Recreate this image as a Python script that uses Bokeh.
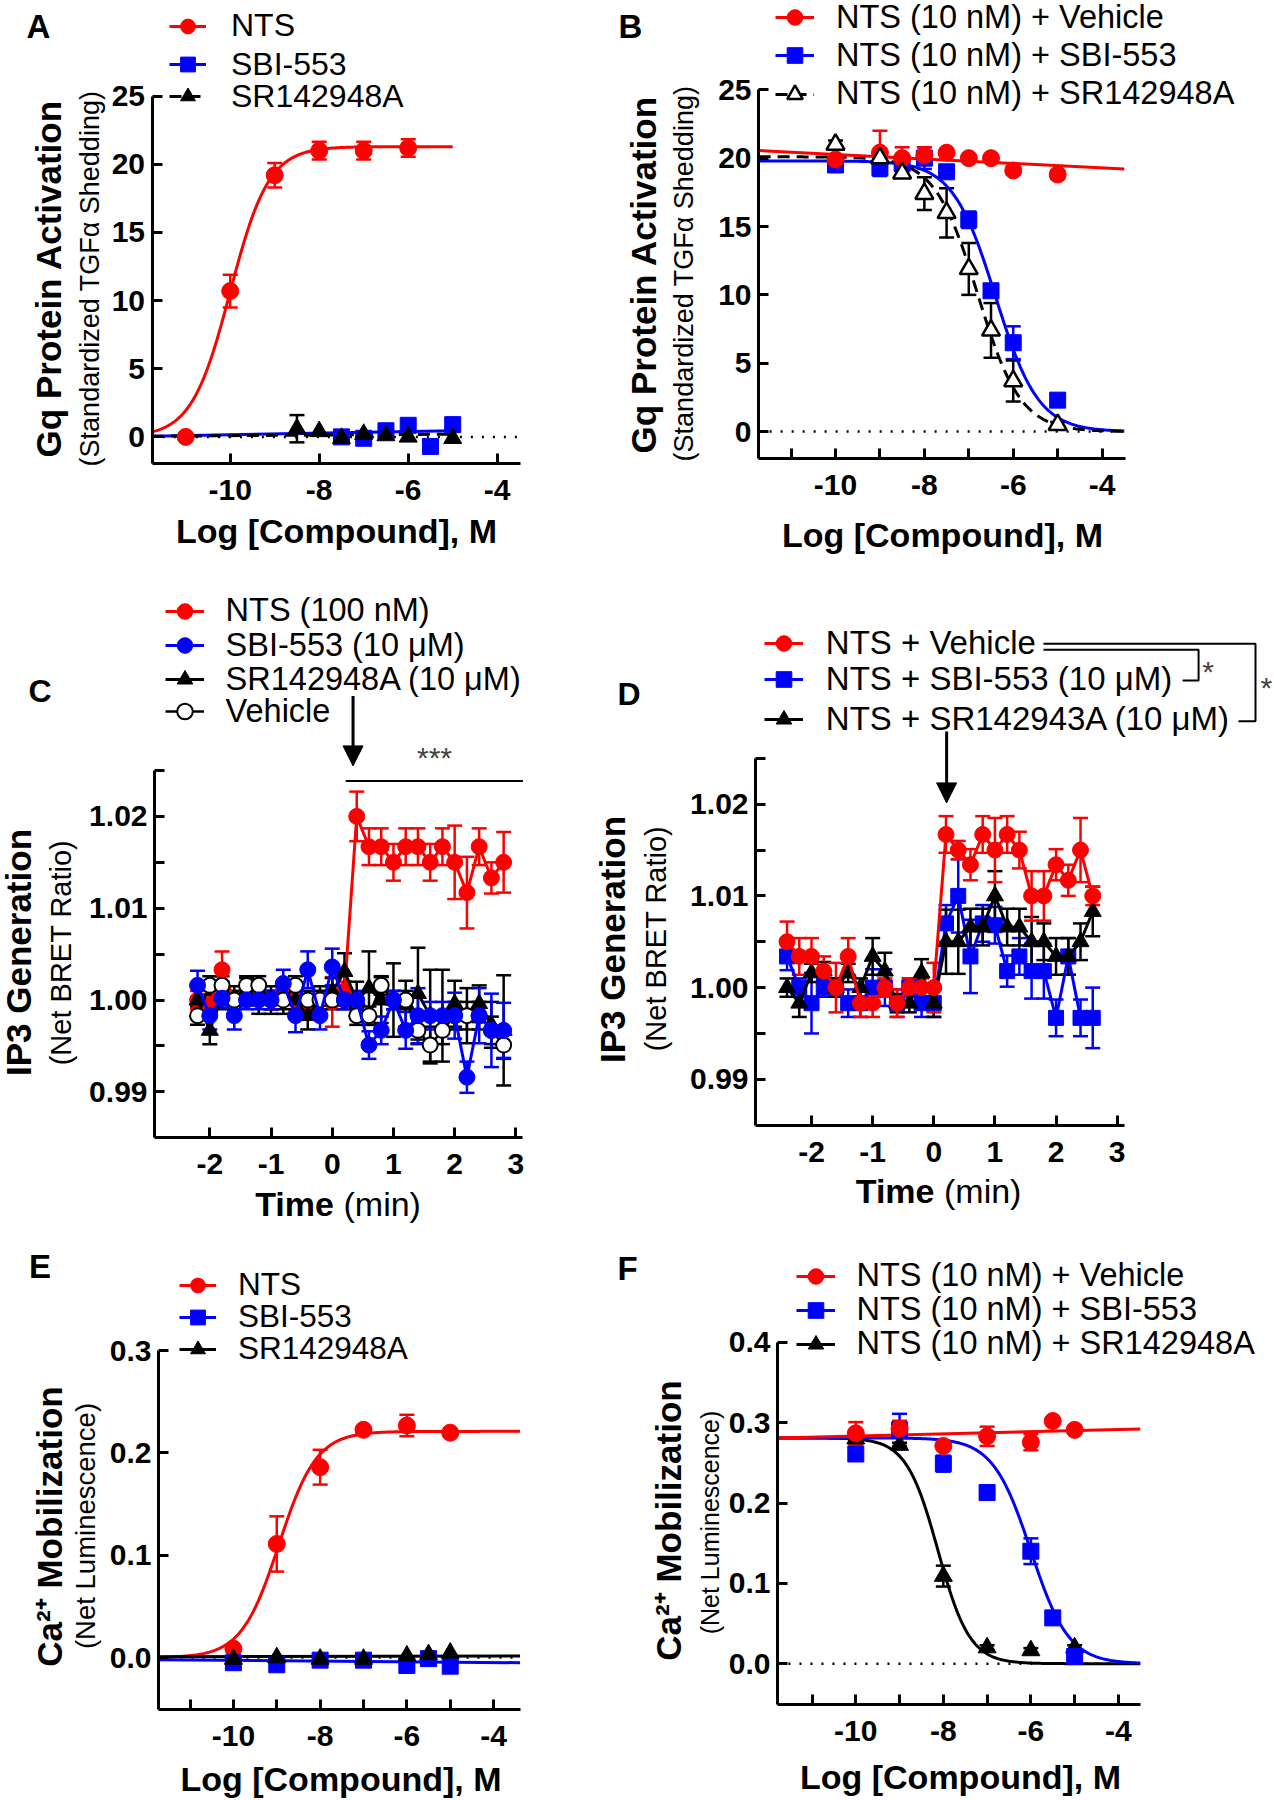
import numpy as np
from bokeh.plotting import figure
from bokeh.models import (ColumnDataSource, Whisker, TeeHead, Legend, LegendItem, Label,
                          Arrow, NormalHead, FixedTicker, NumeralTickFormatter, Range1d)
from bokeh.core.properties import value
from bokeh.layouts import column, row
from bokeh.embed import file_html
from bokeh.resources import INLINE

FONT = "Liberation Sans"
RED = "#ff0000"
BLUE = "#0000ff"
BLACK = "#000000"

# ================= DATA =================
# ---- Panel A: Gq activation, agonist mode ----
A_x_nts = [-11, -10, -9, -8, -7, -6]
A_y_nts = [0.0, 10.7, 19.2, 21.0, 21.0, 21.2]
A_e_nts = [0.0, 1.2, 0.9, 0.65, 0.65, 0.65]
A_x_sbi = [-7.5, -7.0, -6.5, -6.0, -5.5, -5.0]
A_y_sbi = [0.0, -0.1, 0.45, 0.85, -0.7, 0.9]
A_x_sr = [-8.5, -8.0, -7.5, -7.0, -6.5, -6.0, -5.0]
A_y_sr = [0.6, 0.4, -0.1, 0.2, 0.1, 0.0, -0.1]
A_e_sr = [1.0, 0.0, 0.0, 0.0, 0.0, 0.0, 0.0]
A_fit_nts = [0.0, 21.3, -10.0, 1.0]          # bottom, top, logEC50, Hill
A_fit_x = [-11.76, -5.0]
A_fit_sbi = [0.05, 0.45]
A_fit_sr = [0.05, 0.2]
A_zero_x = [-11.76, -3.52]

# ---- Panel B: Gq activation, antagonist mode ----
B_x = [-10, -9, -8.5, -8, -7.5, -7, -6.5, -6, -5]
B_y_veh = [19.9, 20.4, 20.0, 20.2, 20.4, 20.0, 20.0, 19.1, 18.8]
B_e_veh = [0.2, 1.6, 0.8, 0.6, 0.2, 0.2, 0.2, 0.3, 0.3]
B_y_sbi = [19.5, 19.3, 19.6, 20.0, 19.0, 15.5, 10.3, 6.5, 2.3]
B_e_sbi = [0.2, 0.6, 0.3, 0.8, 0.3, 0.6, 0.4, 1.2, 0.2]
B_y_sr = [21.0, 20.0, 18.9, 17.4, 16.0, 11.9, 7.4, 3.7, 0.5]
B_e_sr = [0.3, 0.4, 0.3, 1.2, 1.8, 1.9, 2.0, 1.5, 0.2]
B_fit_x = [-11.73, -3.5]
B_fit_veh = [20.56, 19.2]
B_fit_sbi = [0.0, 19.8, -6.4, 0.9]            # bottom, top, logIC50, Hill
B_fit_sr = [0.0, 20.1, -6.8, 0.9]
B_zero_x = [-11.73, -3.5]

# ---- Panel C: IP3 time course ----
C_t = [-2.2, -2.0, -1.8, -1.6, -1.4, -1.2, -1.0, -0.8, -0.6, -0.4, -0.2, 0.0, 0.2,
       0.4, 0.6, 0.8, 1.0, 1.2, 1.4, 1.6, 1.8, 2.0, 2.2, 2.4, 2.6, 2.8]
C_nts = [1.0000, 0.9995, 1.0033, 1.0000, 1.0005, 1.0005, 1.0000, 1.0010, 1.0000, 0.9990, 1.0000, 0.9998, 1.0010,
         1.0200, 1.0167, 1.0167, 1.0150, 1.0167, 1.0167, 1.0150, 1.0167, 1.0150, 1.0117, 1.0167, 1.0133, 1.0150]
C_nts_e = [0.001, 0.001, 0.002, 0.001, 0.001, 0.001, 0.001, 0.001, 0.001, 0.001, 0.001, 0.0027, 0.001,
           0.0027, 0.002, 0.002, 0.002, 0.002, 0.002, 0.002, 0.002, 0.004, 0.0039, 0.002, 0.0017, 0.0033]
C_sbi = [1.0016, 0.9983, 1.0002, 0.9983, 1.0000, 1.0000, 1.0000, 1.0018, 0.9983, 1.0033, 0.9983, 1.0036, 1.0000,
         1.0000, 0.9951, 0.9967, 1.0000, 0.9967, 0.9983, 0.9983, 0.9983, 0.9983, 0.9916, 0.9983, 0.9967, 0.9967]
C_sbi_e = [0.0016, 0.0015, 0.001, 0.0015, 0.001, 0.001, 0.001, 0.0015, 0.0018, 0.002, 0.0015, 0.002, 0.001,
           0.001, 0.0015, 0.0015, 0.001, 0.002, 0.003, 0.0015, 0.0015, 0.0025, 0.0017, 0.003, 0.004, 0.003]
C_sr = [1.0000, 0.9967, 1.0005, 1.0000, 1.0009, 1.0000, 1.0000, 1.0000, 1.0000, 0.9983, 1.0000, 1.0009, 1.0031,
        1.0000, 1.0013, 1.0000, 1.0000, 0.9996, 1.0007, 0.9983, 0.9983, 0.9996, 0.9983, 0.9996, 0.9973, 0.9967]
C_sr_e = [0.0015, 0.0015, 0.0015, 0.0015, 0.0015, 0.0015, 0.0015, 0.0015, 0.0015, 0.0015, 0.0015, 0.0015, 0.002,
          0.002, 0.004, 0.0025, 0.004, 0.0025, 0.005, 0.005, 0.005, 0.0025, 0.003, 0.002, 0.0025, 0.006]
C_veh = [0.9983, 1.0016, 1.0016, 1.0000, 1.0016, 1.0016, 1.0000, 1.0000, 1.0016, 1.0000, 1.0000, 1.0000, 1.0000,
         0.9983, 0.9983, 1.0016, 1.0000, 1.0000, 0.9967, 0.9951, 0.9967, 0.9983, 0.9983, 0.9983, 0.9967, 0.9951]
C_veh_e = [0.001] * 18 + [0.0015, 0.002, 0.0015, 0.0015, 0.0015, 0.0015, 0.0015, 0.0015]
C_inject = 0.34
C_arrow_y = [1.0331, 1.0255]
C_sig_x = [0.22, 3.115]
C_sig_y = 1.02386
C_sig_text_xy = [1.67, 1.02637]

# ---- Panel D: IP3 time course, antagonist pre-treatment ----
D_t = [-2.4, -2.2, -2.0, -1.8, -1.6, -1.4, -1.2, -1.0, -0.8, -0.6, -0.4, -0.2, 0.0,
       0.2, 0.4, 0.6, 0.8, 1.0, 1.2, 1.4, 1.6, 1.8, 2.0, 2.2, 2.4, 2.6]
D_veh = [1.0050, 1.0034, 1.0034, 1.0018, 1.0000, 1.0034, 0.9983, 0.9983, 1.0000, 0.9983, 1.0000, 1.0000, 1.0000,
         1.0167, 1.0150, 1.0134, 1.0167, 1.0150, 1.0167, 1.0150, 1.0100, 1.0100, 1.0134, 1.0117, 1.0150, 1.0100]
D_veh_e = [0.0022, 0.002, 0.002, 0.0016, 0.0027, 0.002, 0.0015, 0.0015, 0.001, 0.0015, 0.001, 0.001, 0.0027,
           0.002, 0.001, 0.0017, 0.002, 0.0035, 0.002, 0.002, 0.0027, 0.0027, 0.0017, 0.0017, 0.0035, 0.001]
D_sbi = [1.0034, 1.0000, 0.9983, 1.0000, 1.0000, 0.9983, 0.9983, 1.0000, 1.0000, 0.9983, 1.0000, 0.9983, 0.9983,
         1.0070, 1.0100, 1.0034, 1.0070, 1.0068, 1.0018, 1.0034, 1.0018, 1.0018, 0.9967, 1.0034, 0.9967, 0.9967]
D_sbi_e = [0.0015, 0.001, 0.0033, 0.001, 0.001, 0.0015, 0.0015, 0.002, 0.002, 0.0015, 0.001, 0.0015, 0.0015,
           0.002, 0.004, 0.004, 0.002, 0.002, 0.0017, 0.002, 0.003, 0.003, 0.002, 0.002, 0.002, 0.0033]
D_sr = [1.0000, 0.9983, 1.0016, 1.0018, 1.0000, 1.0016, 1.0000, 1.0034, 1.0018, 0.9983, 0.9983, 1.0016, 0.9983,
        1.0050, 1.0050, 1.0066, 1.0066, 1.0100, 1.0066, 1.0066, 1.0050, 1.0050, 1.0034, 1.0034, 1.0050, 1.0083]
D_sr_e = [0.001, 0.0015, 0.001, 0.001, 0.001, 0.001, 0.001, 0.002, 0.002, 0.001, 0.001, 0.0015, 0.0015,
          0.0035, 0.0035, 0.002, 0.002, 0.0027, 0.002, 0.002, 0.0027, 0.002, 0.002, 0.002, 0.002, 0.0027]
D_inject = 0.21
D_arrow_y = [1.02793, 1.02014]
D_br1_x = [1.794, 4.331, 4.331, 4.070]
D_br1_y = [1.03683, 1.03683, 1.03349, 1.03349]
D_br2_x = [1.794, 5.262, 5.262, 4.984]
D_br2_y = [1.03749, 1.03749, 1.02904, 1.02904]
D_star_x = [4.485, 5.441]
D_star_y = [1.03449, 1.03271]

# ---- Panel E: Ca2+ mobilization, agonist mode ----
E_x_nts = [-10, -9, -8, -7, -6, -5]
E_y_nts = [0.0087, 0.111, 0.186, 0.2225, 0.2267, 0.2197]
E_e_nts = [0.003, 0.027, 0.017, 0.003, 0.0105, 0.003]
E_x = [-10, -9, -8, -7, -6, -5.5, -5]
E_y_sbi = [-0.005, -0.007, -0.0025, -0.0025, -0.0077, -0.001, -0.0084]
E_y_sr = [-0.0014, 0.0, -0.0014, -0.0014, 0.0017, 0.003, 0.0045]
E_fit_nts = [0.0, 0.221, -8.95, 1.0]
E_fit_x = [-11.727, -3.39]
E_fit_sbi = [-0.002, -0.005]
E_fit_sr = [0.0008, 0.0015]

# ---- Panel F: Ca2+ mobilization, antagonist mode ----
F_x = [-10, -9, -8, -7, -6, -5.5, -5]
F_y_veh = [0.2867, 0.2924, 0.271, 0.283, 0.2756, 0.302, 0.291]
F_e_veh = [0.014, 0.01, 0.003, 0.012, 0.01, 0.003, 0.003]
F_y_sbi = [0.261, 0.291, 0.249, 0.213, 0.140, 0.057, 0.009]
F_e_sbi = [0.005, 0.02, 0.01, 0.005, 0.016, 0.005, 0.005]
F_x_sr = [-10, -9, -8, -7, -6, -5]
F_y_sr = [0.28, 0.272, 0.109, 0.020, 0.0164, 0.020]
F_e_sr = [0.003, 0.003, 0.013, 0.003, 0.003, 0.003]
F_fit_x = [-11.79, -3.5]
F_fit_veh = [0.281, 0.292]
F_fit_sbi = [0.0, 0.281, -6.0, 1.0]
F_fit_sr = [0.0, 0.281, -8.12, 1.2]
F_zero_x = [-11.79, -3.5]

LOG_TICKS = [-10, -8, -6, -4]
LOG_MINOR = [-11, -9, -7, -5]
TIME_TICKS = [-2, -1, 0, 1, 2, 3]
IP3_TICKS = [0.99, 1.00, 1.01, 1.02]
IP3_MINOR = [0.995, 1.005, 1.015, 1.025]


# ================= HELPERS =================
def agonist(params, xr, n=300):
    b, t, c, h = params
    xs = np.linspace(xr[0], xr[1], n)
    return xs, b + (t - b) / (1 + 10 ** ((c - xs) * h))


def antagonist(params, xr, n=300):
    b, t, c, h = params
    xs = np.linspace(xr[0], xr[1], n)
    return xs, b + (t - b) / (1 + 10 ** ((xs - c) * h))


class Panel:
    """One panel; the plotting frame fills the whole canvas, axes sit at fixed locations."""

    def __init__(self, cols, rows, xcal, ycal, yaxis_px, xaxis_px, xend_px, ytop):
        self.c0, self.c1 = cols
        self.r0, self.r1 = rows
        xv1, xp1, xv2, xp2 = xcal
        yv1, yp1, yv2, yp2 = ycal
        self.fx = lambda px: xv1 + (px - xp1) * (xv2 - xv1) / (xp2 - xp1)
        self.fy = lambda py: yv1 + (py - yp1) * (yv2 - yv1) / (yp2 - yp1)
        self.p = figure(width=self.c1 - self.c0, height=self.r1 - self.r0,
                        x_range=Range1d(self.fx(self.c0), self.fx(self.c1)),
                        y_range=Range1d(self.fy(self.r1), self.fy(self.r0)),
                        output_backend="svg", toolbar_location=None, tools="", min_border=0)
        self.p.outline_line_color = None
        self.p.grid.visible = False
        self.p.background_fill_color = "white"
        self.p.border_fill_color = "white"
        self.x_at = self.fy(xaxis_px)
        self.y_at = self.fx(yaxis_px)
        self.xb = (self.y_at, self.fx(xend_px))
        self.yb = (self.x_at, ytop)

    def axes(self, xt, yt, xminor=None, yminor=None, xfmt="0", yfmt="0"):
        p = self.p
        for ax in (p.xaxis[0], p.yaxis[0]):
            ax.axis_line_width = 3
            ax.axis_line_color = "black"
            ax.major_tick_in = 10
            ax.major_tick_out = 0
            ax.major_tick_line_width = 3
            ax.minor_tick_in = 10
            ax.minor_tick_out = 0
            ax.minor_tick_line_width = 3
            ax.major_label_text_font = FONT
            ax.major_label_text_font_style = "bold"
            ax.major_label_text_font_size = "30px"
            ax.major_label_text_color = "black"
        p.xaxis[0].fixed_location = self.x_at
        p.yaxis[0].fixed_location = self.y_at
        p.xaxis[0].bounds = self.xb
        p.yaxis[0].bounds = self.yb
        p.xaxis[0].ticker = FixedTicker(ticks=xt, minor_ticks=xminor or [])
        p.yaxis[0].ticker = FixedTicker(ticks=yt, minor_ticks=yminor or [])
        p.xaxis[0].formatter = NumeralTickFormatter(format=xfmt)
        p.yaxis[0].formatter = NumeralTickFormatter(format=yfmt)
        p.xaxis[0].major_label_standoff = 16
        p.yaxis[0].major_label_standoff = 7

    def lab(self, text, rx, ry, size, bold=False, align="left", baseline="middle", angle=0.0):
        self.p.add_layout(Label(x=rx - self.c0, y=self.r1 - ry, x_units="screen", y_units="screen",
                                text=text, text_font=FONT, text_font_size=size,
                                text_font_style="bold" if bold else "normal",
                                text_align=align, text_baseline=baseline, angle=angle,
                                text_color="black"))

    def legend(self, entries, sym_left, rows, gw, standoff, size="32.5px", gh=40):
        for (label, rends), rc in zip(entries, rows):
            lg = Legend(items=[LegendItem(label=value(label), renderers=rends)],
                        location=(sym_left - self.c0, self.r1 - rc - gh / 2),
                        glyph_width=int(round(gw)), glyph_height=gh, label_height=gh,
                        label_standoff=int(round(standoff)), padding=0, margin=0, spacing=0,
                        border_line_alpha=0, background_fill_alpha=0,
                        label_text_font=FONT, label_text_font_size=size, label_text_color="black")
            self.p.add_layout(lg)


def errbars(p, x, y, e, color, width=2.5, cap=15):
    xs, lo, hi = [], [], []
    for a, b, c in zip(x, y, e):
        if c > 0:
            xs.append(a)
            lo.append(b - c)
            hi.append(b + c)
    src = ColumnDataSource(dict(x=xs, lo=lo, hi=hi))
    p.add_layout(Whisker(source=src, base="x", lower="lo", upper="hi", dimension="height",
                         line_color=color, line_width=width, level="underlay",
                         lower_head=TeeHead(size=cap, line_color=color, line_width=width),
                         upper_head=TeeHead(size=cap, line_color=color, line_width=width)))


DOT = "2 9"
DASH = "12 7"
ROT = np.pi / 2
SZ_C, SZ_S, SZ_T = 17, 16, 18

# ================= PANEL A =================
A = Panel((0, 590), (0, 570), (-10, 229.7, -4, 496.7), (0, 436.4, 25, 95.7), 151.5, 463, 520, 25)
A.axes(LOG_TICKS, [0, 5, 10, 15, 20, 25])
pa = A.p
pa.line(A_zero_x, [0, 0], color=BLACK, line_width=2.5, line_dash=DOT)
xs, ys = agonist(A_fit_nts, A_fit_x)
a_l1 = pa.line(xs, ys, color=RED, line_width=3)
a_l2 = pa.line(A_fit_x, A_fit_sbi, color=BLUE, line_width=3)
a_l3 = pa.line(A_fit_x, A_fit_sr, color=BLACK, line_width=3, line_dash=DASH)
errbars(pa, A_x_nts, A_y_nts, A_e_nts, RED)
errbars(pa, A_x_sr, A_y_sr, A_e_sr, BLACK)
a_m1 = pa.scatter(A_x_nts, A_y_nts, marker="circle", size=SZ_C, color=RED)
a_m2 = pa.scatter(A_x_sbi, A_y_sbi, marker="square", size=SZ_S, color=BLUE)
a_m3 = pa.scatter(A_x_sr, A_y_sr, marker="triangle", size=SZ_T, color=BLACK)
A.legend([("NTS", [a_l1, a_m1]), ("SBI-553", [a_l2, a_m2]), ("SR142948A", [a_l3, a_m3])],
         169, [25.7, 64.3, 96.4], 37, 25, size="32px")
A.lab("A", 26, 26, "33px", bold=True)
A.lab("Gq Protein Activation", 48, 278, "35px", bold=True, align="center", angle=ROT)
A.lab("(Standardized TGF\u03b1 Shedding)", 89, 278, "27px", align="center", angle=ROT)
A.lab("Log [Compound], M", 336, 530, "34px", bold=True, align="center")

# ================= PANEL B =================
B = Panel((590, 1274), (0, 570), (-10, 835, -4, 1101.6), (0, 431.1, 25, 89.3), 758, 458, 1124.8, 25)
B.axes(LOG_TICKS, [0, 5, 10, 15, 20, 25], xminor=LOG_MINOR)
pb = B.p
pb.line(B_zero_x, [0, 0], color=BLACK, line_width=2.5, line_dash=DOT)
xs, ys = antagonist(B_fit_sbi, B_fit_x)
b_l2 = pb.line(xs, ys, color=BLUE, line_width=3)
xs, ys = antagonist(B_fit_sr, B_fit_x)
b_l3 = pb.line(xs, ys, color=BLACK, line_width=3, line_dash=DASH)
b_l1 = pb.line(B_fit_x, B_fit_veh, color=RED, line_width=3)
errbars(pb, B_x, B_y_sbi, B_e_sbi, BLUE)
errbars(pb, B_x, B_y_sr, B_e_sr, BLACK)
errbars(pb, B_x, B_y_veh, B_e_veh, RED)
b_m2 = pb.scatter(B_x, B_y_sbi, marker="square", size=SZ_S, color=BLUE)
b_m1 = pb.scatter(B_x, B_y_veh, marker="circle", size=SZ_C, color=RED)
b_m3 = pb.scatter(B_x, B_y_sr, marker="triangle", size=SZ_T, fill_color="white", line_color=BLACK, line_width=2.5)
B.legend([("NTS (10 nM) + Vehicle", [b_l1, b_m1]), ("NTS (10 nM) + SBI-553", [b_l2, b_m2]),
          ("NTS (10 nM) + SR142948A", [b_l3, b_m3])],
         775, [17.1, 55.4, 93.6], 39, 22)
B.lab("B", 618, 26, "33px", bold=True)
B.lab("Gq Protein Activation", 643, 274, "35px", bold=True, align="center", angle=ROT)
B.lab("(Standardized TGF\u03b1 Shedding)", 683, 273, "27px", align="center", angle=ROT)
B.lab("Log [Compound], M", 942, 534, "34px", bold=True, align="center")

# ================= PANEL C =================
C = Panel((0, 590), (570, 1240), (-2, 209.3, 3, 515.4), (0.99, 1091.4, 1.02, 815.9), 154, 1137, 522.4, 1.025)
C.axes(TIME_TICKS, IP3_TICKS, yminor=IP3_MINOR, yfmt="0.00")
pc = C.p
errbars(pc, C_t, C_nts, C_nts_e, RED)
errbars(pc, C_t, C_sr, C_sr_e, BLACK)
errbars(pc, C_t, C_veh, C_veh_e, BLACK)
errbars(pc, C_t, C_sbi, C_sbi_e, BLUE)
c_l1 = pc.line(C_t, C_nts, color=RED, line_width=3)
c_m1 = pc.scatter(C_t, C_nts, marker="circle", size=16, color=RED)
c_l3 = pc.line(C_t, C_sr, color=BLACK, line_width=3)
c_m3 = pc.scatter(C_t, C_sr, marker="triangle", size=17, color=BLACK)
c_l4 = pc.line(C_t, C_veh, color=BLACK, line_width=2.5)
c_m4 = pc.scatter(C_t, C_veh, marker="circle", size=15, fill_color="white", line_color=BLACK, line_width=2)
c_l2 = pc.line(C_t, C_sbi, color=BLUE, line_width=3)
c_m2 = pc.scatter(C_t, C_sbi, marker="circle", size=16, color=BLUE)
pc.line(C_sig_x, [C_sig_y, C_sig_y], color=BLACK, line_width=2)
pc.add_layout(Label(x=C_sig_text_xy[0], y=C_sig_text_xy[1], text="***", text_font=FONT,
                    text_font_size="30px", text_align="center", text_baseline="alphabetic"))
pc.add_layout(Arrow(end=NormalHead(size=20, fill_color=BLACK, line_color=BLACK, line_width=1),
                    x_start=C_inject, y_start=C_arrow_y[0], x_end=C_inject, y_end=C_arrow_y[1],
                    line_width=3, line_color=BLACK))
C.legend([("NTS (100 nM)", [c_l1, c_m1]), ("SBI-553 (10 \u03bcM)", [c_l2, c_m2]),
          ("SR142948A (10 \u03bcM)", [c_l3, c_m3]), ("Vehicle", [c_l4, c_m4])],
         164.6, [610.6, 645.3, 679.2, 711.4], 39, 22, size="32.5px")
C.lab("C", 28, 690.8, "32px", bold=True)
C.lab("IP3 Generation", 18, 952, "35px", bold=True, align="center", angle=ROT)
C.lab("(Net BRET Ratio)", 60, 952, "29px", align="center", angle=ROT)
C.lab("Time", 333.4, 1203, "34px", bold=True, align="right")
C.lab("(min)", 343, 1203, "34px", align="left")

# ================= PANEL D =================
D = Panel((590, 1274), (570, 1240), (-2, 811, 3, 1116.7), (0.99, 1078.8, 1.02, 803.7), 755, 1125, 1123.6, 1.025)
D.axes(TIME_TICKS, IP3_TICKS, yminor=IP3_MINOR, yfmt="0.00")
pd_ = D.p
errbars(pd_, D_t, D_sbi, D_sbi_e, BLUE)
errbars(pd_, D_t, D_sr, D_sr_e, BLACK)
errbars(pd_, D_t, D_veh, D_veh_e, RED)
d_l2 = pd_.line(D_t, D_sbi, color=BLUE, line_width=3)
d_m2 = pd_.scatter(D_t, D_sbi, marker="square", size=15, color=BLUE)
d_l3 = pd_.line(D_t, D_sr, color=BLACK, line_width=3)
d_m3 = pd_.scatter(D_t, D_sr, marker="triangle", size=17, color=BLACK)
d_l1 = pd_.line(D_t, D_veh, color=RED, line_width=3)
d_m1 = pd_.scatter(D_t, D_veh, marker="circle", size=16, color=RED)
pd_.line(D_br1_x, D_br1_y, color=BLACK, line_width=2)
pd_.line(D_br2_x, D_br2_y, color=BLACK, line_width=2)
for sx, sy in zip(D_star_x, D_star_y):
    pd_.add_layout(Label(x=sx, y=sy, text="*", text_font=FONT, text_font_size="30px",
                         text_align="center", text_baseline="alphabetic"))
pd_.add_layout(Arrow(end=NormalHead(size=20, fill_color=BLACK, line_color=BLACK, line_width=1),
                     x_start=D_inject, y_start=D_arrow_y[0], x_end=D_inject, y_end=D_arrow_y[1],
                     line_width=3, line_color=BLACK))
D.legend([("NTS + Vehicle", [d_l1, d_m1]), ("NTS + SBI-553 (10 \u03bcM)", [d_l2, d_m2]),
          ("NTS + SR142943A (10 \u03bcM)", [d_l3, d_m3])],
         763.8, [643.3, 679.2, 718.8], 39, 23, size="33px")
D.lab("D", 617, 693.3, "32px", bold=True)
D.lab("IP3 Generation", 612, 939, "35px", bold=True, align="center", angle=ROT)
D.lab("(Net BRET Ratio)", 655, 938, "29px", align="center", angle=ROT)
D.lab("Time", 934, 1190, "34px", bold=True, align="right")
D.lab("(min)", 943.5, 1190, "34px", align="left")

# ================= PANEL E =================
E = Panel((0, 590), (1240, 1800), (-10, 232.9, -4, 493.1), (0, 1657.1, 0.3, 1350), 158, 1709, 519.5, 0.3)
E.axes(LOG_TICKS, [0.0, 0.1, 0.2, 0.3], xminor=LOG_MINOR, yfmt="0.0")
pe = E.p
pe.line(E_fit_x, [0, 0], color=BLACK, line_width=2.5, line_dash=DOT)
xs, ys = agonist(E_fit_nts, E_fit_x)
e_l1 = pe.line(xs, ys, color=RED, line_width=3)
e_l2 = pe.line(E_fit_x, E_fit_sbi, color=BLUE, line_width=3)
e_l3 = pe.line(E_fit_x, E_fit_sr, color=BLACK, line_width=3)
errbars(pe, E_x_nts, E_y_nts, E_e_nts, RED)
e_m1 = pe.scatter(E_x_nts, E_y_nts, marker="circle", size=SZ_C, color=RED)
e_m2 = pe.scatter(E_x, E_y_sbi, marker="square", size=SZ_S, color=BLUE)
e_m3 = pe.scatter(E_x, E_y_sr, marker="triangle", size=SZ_T, color=BLACK)
E.legend([("NTS", [e_l1, e_m1]), ("SBI-553", [e_l2, e_m2]), ("SR142948A", [e_l3, e_m3])],
         179, [1284.6, 1316.8, 1348.9], 37, 22, size="31.5px")
E.lab("E", 28.5, 1266, "33px", bold=True)
E.lab("Ca\u00b2\u207a Mobilization", 49, 1526, "35px", bold=True, align="center", angle=ROT)
E.lab("(Net Luminescence)", 85, 1525.5, "27.5px", align="center", angle=ROT)
E.lab("Log [Compound], M", 340.5, 1778, "34px", bold=True, align="center")

# ================= PANEL F =================
F = Panel((590, 1274), (1240, 1800), (-10, 855.3, -4, 1117.9), (0, 1663.2, 0.4, 1341.8), 777, 1704, 1139.8, 0.4)
F.axes(LOG_TICKS, [0.0, 0.1, 0.2, 0.3, 0.4], xminor=LOG_MINOR, yfmt="0.0")
pf = F.p
pf.line(F_zero_x, [0, 0], color=BLACK, line_width=2.5, line_dash=DOT)
xs, ys = antagonist(F_fit_sr, F_fit_x)
f_l3 = pf.line(xs, ys, color=BLACK, line_width=3)
xs, ys = antagonist(F_fit_sbi, F_fit_x)
f_l2 = pf.line(xs, ys, color=BLUE, line_width=3)
f_l1 = pf.line(F_fit_x, F_fit_veh, color=RED, line_width=3)
errbars(pf, F_x, F_y_sbi, F_e_sbi, BLUE)
errbars(pf, F_x_sr, F_y_sr, F_e_sr, BLACK)
errbars(pf, F_x, F_y_veh, F_e_veh, RED)
f_m3 = pf.scatter(F_x_sr, F_y_sr, marker="triangle", size=SZ_T, color=BLACK)
f_m2 = pf.scatter(F_x, F_y_sbi, marker="square", size=SZ_S, color=BLUE)
f_m1 = pf.scatter(F_x, F_y_veh, marker="circle", size=SZ_C, color=RED)
F.legend([("NTS (10 nM) + Vehicle", [f_l1, f_m1]), ("NTS (10 nM) + SBI-553", [f_l2, f_m2]),
          ("NTS (10 nM) + SR142948A", [f_l3, f_m3])],
         795.5, [1275.7, 1309.6, 1343.6], 39, 22)
F.lab("F", 617, 1267.5, "33px", bold=True)
F.lab("Ca\u00b2\u207a Mobilization", 668, 1520, "35px", bold=True, align="center", angle=ROT)
F.lab("(Net Luminescence)", 709, 1522, "25px", align="center", angle=ROT)
F.lab("Log [Compound], M", 960, 1776, "34px", bold=True, align="center")

layout = column(row(A.p, B.p), row(C.p, D.p), row(E.p, F.p))
open("out.html", "w").write(file_html(layout, INLINE))
